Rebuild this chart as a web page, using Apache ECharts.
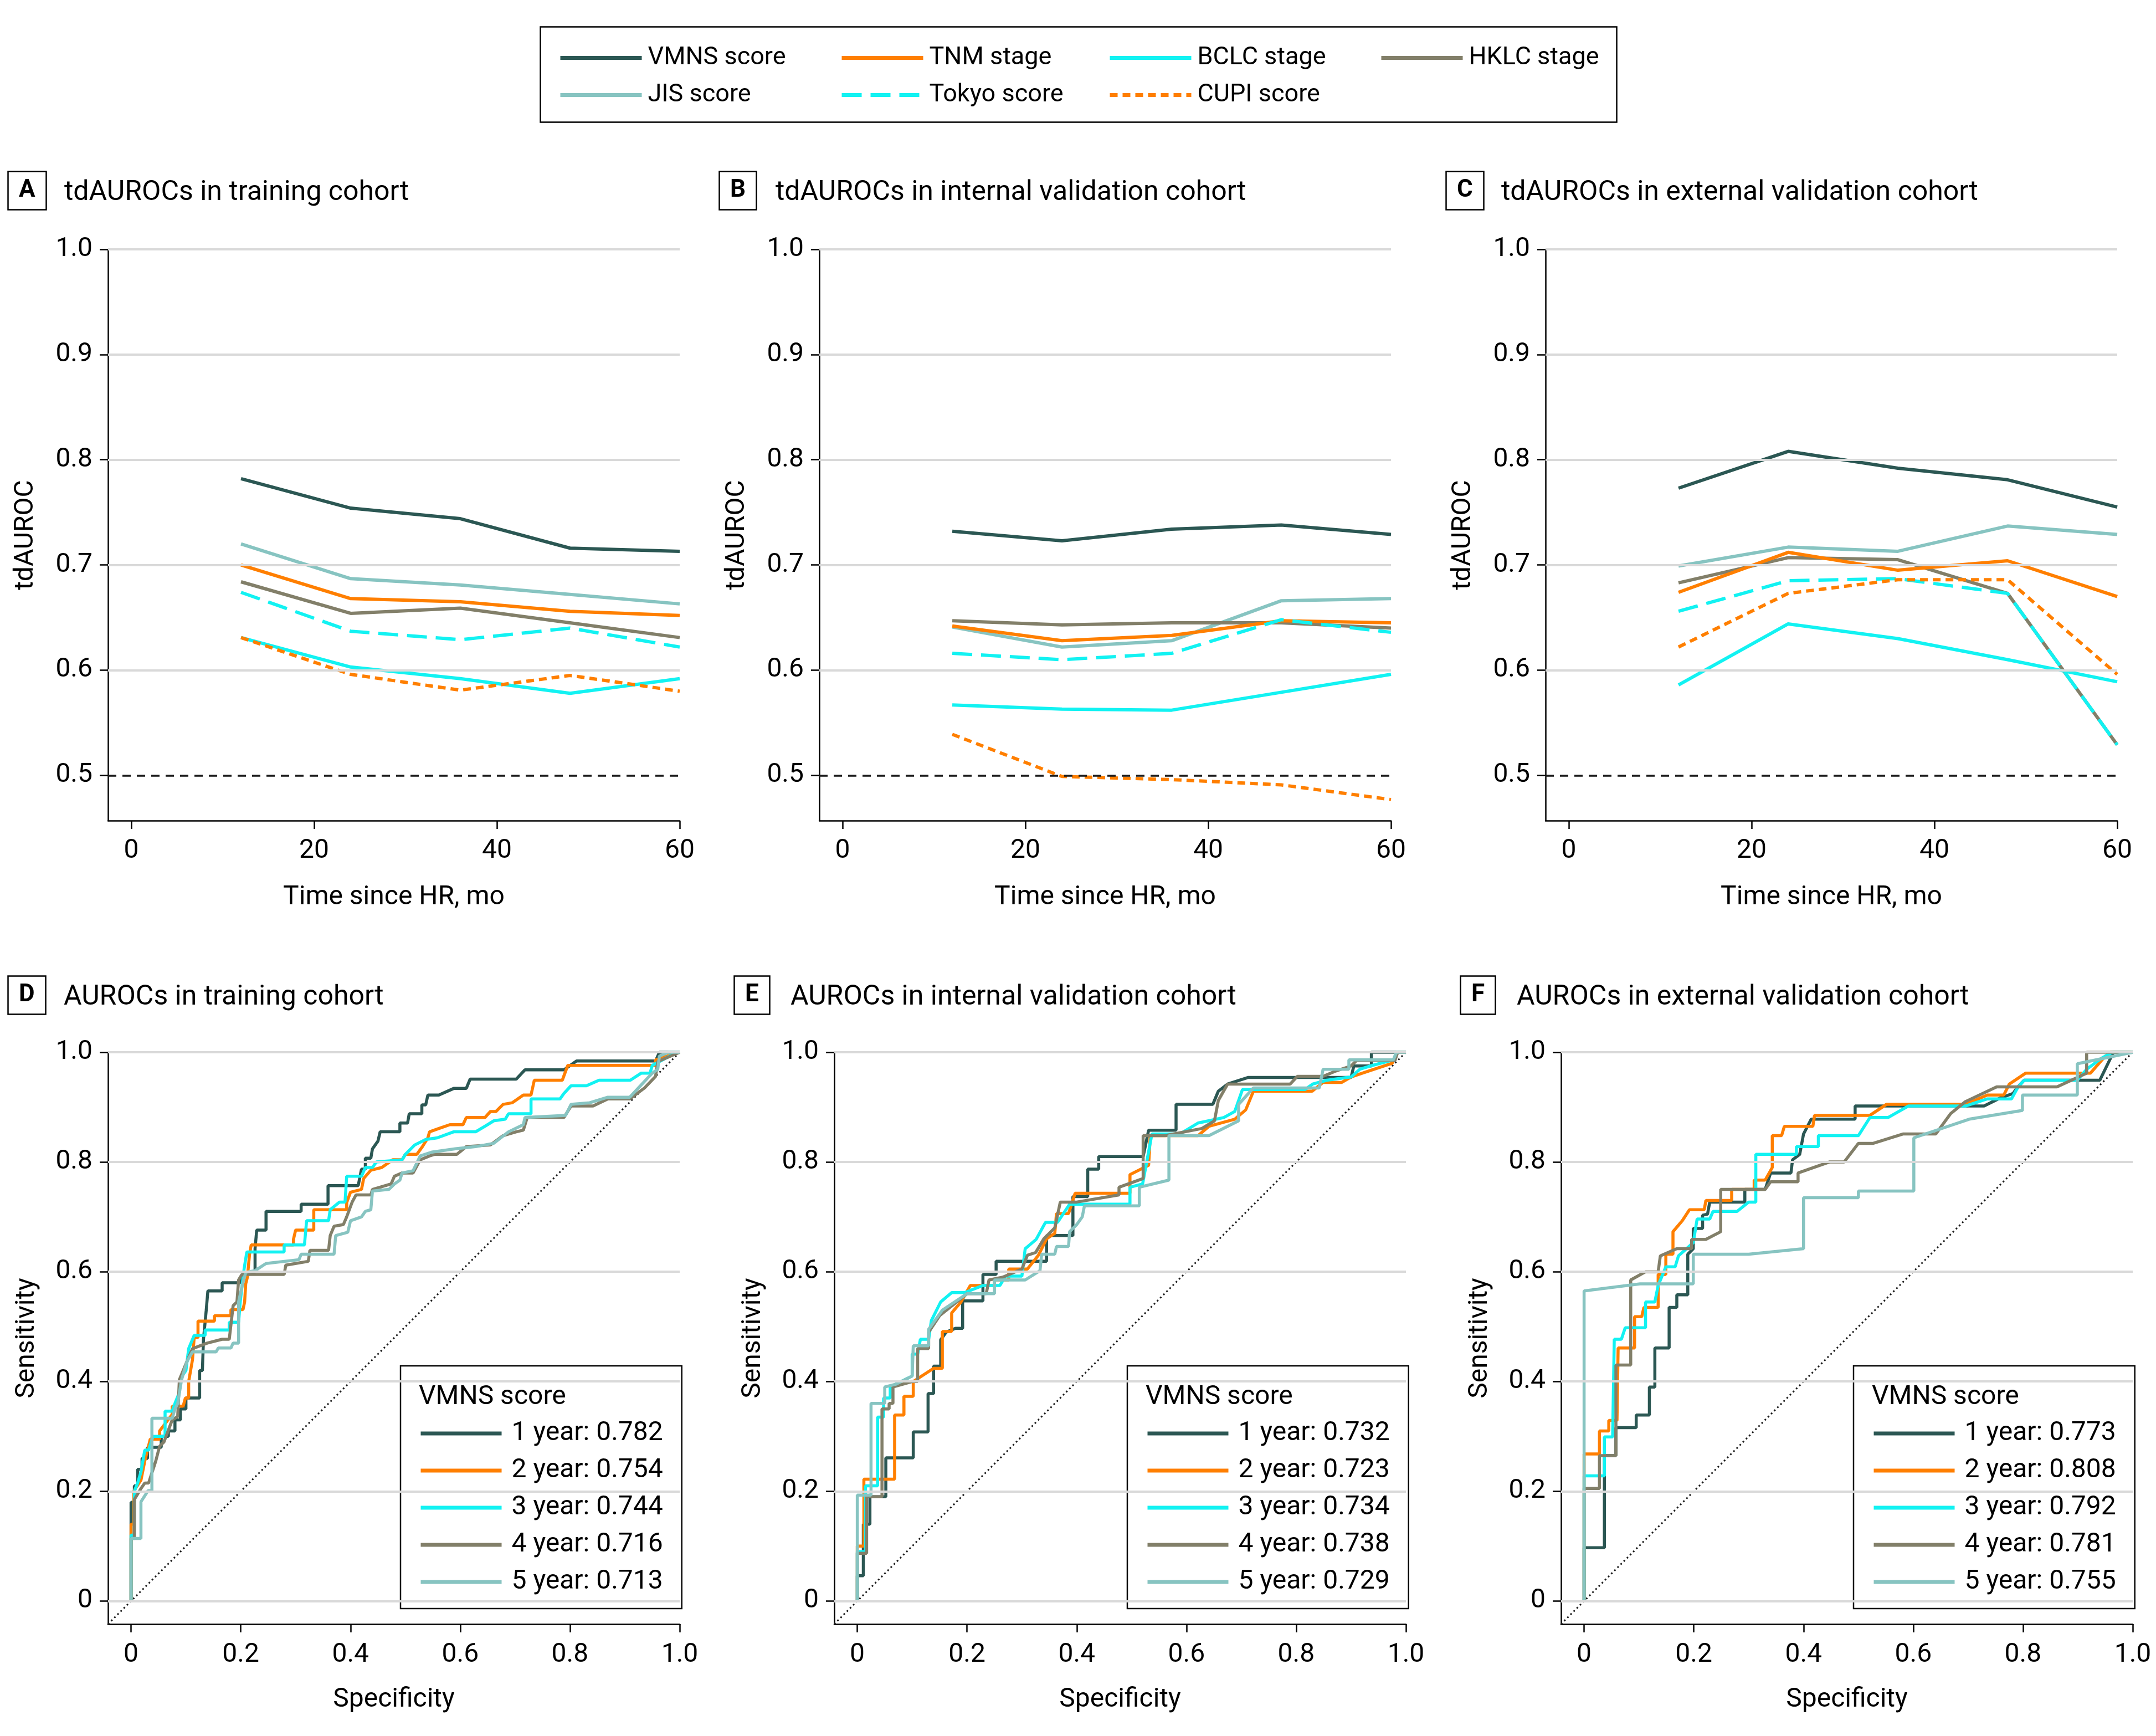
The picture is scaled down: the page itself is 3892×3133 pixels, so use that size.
<!DOCTYPE html>
<html>
<head>
<meta charset="utf-8">
<title>tdAUROCs and AUROCs of the VMNS score</title>
<script src="https://cdn.jsdelivr.net/npm/echarts@6.0.0/dist/echarts.min.js"></script>
<style>
  html, body { margin: 0; padding: 0; background: #ffffff; }
  #chart { width: 3892px; height: 3133px; }
</style>
</head>
<body>
<div id="chart"></div>
<script>
// time points and ticks
const months = [12, 24, 36, 48, 60]
const monthTicks = [0, 20, 40, 60]
const aurocTicks = [0.5, 0.6, 0.7, 0.8, 0.9, 1.0]
const aurocGridLines = [0.6, 0.7, 0.8, 0.9, 1.0]
const chanceLevel = 0.5
const rocTicks = [0, 0.2, 0.4, 0.6, 0.8, 1.0]
const rocMin = -0.042
const rocDiagonal = [[rocMin, rocMin], [1, 1]]

// tdAUROC - training cohort
const trainVmns = [0.782, 0.754, 0.744, 0.716, 0.713]
const trainJis = [0.720, 0.687, 0.681, 0.672, 0.663]
const trainTnm = [0.700, 0.668, 0.665, 0.656, 0.652]
const trainHklc = [0.684, 0.654, 0.659, 0.645, 0.631]
const trainTokyo = [0.674, 0.637, 0.629, 0.640, 0.622]
const trainBclc = [0.631, 0.603, 0.592, 0.578, 0.592]
const trainCupi = [0.631, 0.596, 0.581, 0.595, 0.580]

// tdAUROC - internal validation cohort
const intVmns = [0.732, 0.723, 0.734, 0.738, 0.729]
const intJis = [0.641, 0.622, 0.628, 0.666, 0.668]
const intTnm = [0.642, 0.628, 0.633, 0.647, 0.645]
const intHklc = [0.647, 0.643, 0.645, 0.645, 0.640]
const intTokyo = [0.616, 0.610, 0.616, 0.648, 0.636]
const intBclc = [0.567, 0.563, 0.562, 0.579, 0.596]
const intCupi = [0.539, 0.499, 0.496, 0.491, 0.477]

// tdAUROC - external validation cohort
const extVmns = [0.773, 0.808, 0.792, 0.781, 0.755]
const extJis = [0.699, 0.717, 0.713, 0.737, 0.729]
const extTnm = [0.674, 0.712, 0.695, 0.704, 0.670]
const extHklc = [0.683, 0.707, 0.705, 0.673, 0.529]
const extTokyo = [0.656, 0.685, 0.687, 0.673, 0.529]
const extBclc = [0.586, 0.644, 0.630, 0.610, 0.589]
const extCupi = [0.622, 0.673, 0.686, 0.686, 0.596]

// VMNS score AUROC per year
const aucTrain = [0.782, 0.754, 0.744, 0.716, 0.713]
const aucInt = [0.732, 0.723, 0.734, 0.738, 0.729]
const aucExt = [0.773, 0.808, 0.792, 0.781, 0.755]

// ROC curves, [specificity axis value, sensitivity]
const rocTrain1 = [[0,0],[0,0.18],[0.006,0.18],[0.006,0.21],[0.012,0.21],[0.012,0.24],[0.02,0.24],[0.02,0.26],[0.03,0.26],[0.03,0.28],[0.055,0.28],[0.055,0.3],[0.068,0.3],[0.068,0.31],[0.08,0.31],[0.08,0.33],[0.09,0.33],[0.09,0.35],[0.1,0.35],[0.1,0.37],[0.125,0.37],[0.125,0.42],[0.13,0.42],[0.132,0.477],[0.137,0.53],[0.14,0.565],[0.166,0.565],[0.166,0.58],[0.199,0.58],[0.2,0.59],[0.226,0.6],[0.226,0.642],[0.229,0.676],[0.246,0.676],[0.246,0.71],[0.31,0.71],[0.31,0.723],[0.359,0.723],[0.359,0.757],[0.414,0.757],[0.42,0.787],[0.427,0.787],[0.427,0.807],[0.437,0.807],[0.44,0.824],[0.45,0.838],[0.454,0.855],[0.49,0.855],[0.49,0.871],[0.504,0.871],[0.507,0.888],[0.53,0.888],[0.53,0.904],[0.537,0.904],[0.541,0.922],[0.561,0.922],[0.588,0.934],[0.611,0.934],[0.618,0.951],[0.702,0.951],[0.718,0.968],[0.789,0.968],[0.812,0.984],[0.956,0.984],[0.963,1],[1,1]]
const rocTrain2 = [[0,0],[0,0.14],[0.005,0.14],[0.005,0.2],[0.011,0.21],[0.018,0.22],[0.025,0.255],[0.035,0.295],[0.052,0.295],[0.052,0.31],[0.075,0.34],[0.075,0.355],[0.095,0.355],[0.099,0.37],[0.105,0.37],[0.105,0.4],[0.112,0.44],[0.115,0.48],[0.122,0.48],[0.122,0.51],[0.152,0.51],[0.152,0.52],[0.182,0.52],[0.182,0.531],[0.204,0.531],[0.207,0.545],[0.209,0.578],[0.212,0.59],[0.216,0.632],[0.219,0.649],[0.296,0.649],[0.296,0.659],[0.3,0.676],[0.333,0.676],[0.333,0.713],[0.393,0.713],[0.393,0.726],[0.4,0.745],[0.42,0.75],[0.424,0.77],[0.437,0.785],[0.457,0.79],[0.477,0.804],[0.494,0.804],[0.5,0.814],[0.521,0.814],[0.531,0.828],[0.541,0.844],[0.544,0.855],[0.561,0.861],[0.581,0.868],[0.605,0.868],[0.611,0.881],[0.645,0.881],[0.655,0.892],[0.665,0.892],[0.678,0.905],[0.695,0.908],[0.715,0.922],[0.729,0.922],[0.735,0.949],[0.786,0.949],[0.796,0.976],[0.956,0.976],[0.956,0.986],[0.987,0.996],[1,1]]
const rocTrain3 = [[0,0],[0,0.12],[0.006,0.12],[0.006,0.2],[0.012,0.215],[0.018,0.235],[0.025,0.275],[0.032,0.275],[0.04,0.3],[0.062,0.3],[0.062,0.346],[0.075,0.346],[0.08,0.36],[0.088,0.38],[0.088,0.403],[0.1,0.42],[0.105,0.46],[0.115,0.484],[0.135,0.484],[0.135,0.494],[0.179,0.494],[0.179,0.508],[0.196,0.508],[0.199,0.545],[0.202,0.572],[0.206,0.605],[0.211,0.636],[0.279,0.636],[0.279,0.649],[0.316,0.649],[0.32,0.693],[0.36,0.693],[0.363,0.713],[0.38,0.727],[0.39,0.727],[0.393,0.774],[0.42,0.774],[0.427,0.79],[0.44,0.79],[0.447,0.8],[0.494,0.804],[0.5,0.814],[0.517,0.831],[0.537,0.841],[0.558,0.844],[0.588,0.855],[0.628,0.855],[0.645,0.865],[0.661,0.875],[0.682,0.878],[0.688,0.888],[0.729,0.888],[0.729,0.915],[0.782,0.915],[0.789,0.925],[0.802,0.939],[0.83,0.939],[0.853,0.949],[0.91,0.949],[0.93,0.962],[0.946,0.962],[0.95,0.976],[0.987,0.996],[1,1]]
const rocTrain4 = [[0,0],[0,0.114],[0.006,0.114],[0.006,0.185],[0.012,0.195],[0.018,0.205],[0.025,0.215],[0.032,0.215],[0.045,0.255],[0.052,0.282],[0.06,0.29],[0.075,0.33],[0.085,0.336],[0.088,0.403],[0.102,0.437],[0.112,0.46],[0.139,0.47],[0.166,0.477],[0.179,0.477],[0.186,0.538],[0.193,0.545],[0.196,0.585],[0.202,0.595],[0.279,0.595],[0.282,0.612],[0.323,0.619],[0.326,0.639],[0.36,0.639],[0.363,0.666],[0.37,0.683],[0.387,0.686],[0.393,0.7],[0.403,0.727],[0.41,0.74],[0.437,0.74],[0.44,0.75],[0.474,0.76],[0.48,0.774],[0.494,0.78],[0.514,0.78],[0.527,0.804],[0.544,0.811],[0.554,0.814],[0.594,0.814],[0.611,0.828],[0.655,0.831],[0.678,0.848],[0.702,0.855],[0.715,0.858],[0.722,0.881],[0.789,0.881],[0.802,0.902],[0.842,0.902],[0.869,0.915],[0.909,0.915],[0.936,0.935],[0.956,0.956],[0.96,0.983],[1,1]]
const rocTrain5 = [[0,0],[0,0.114],[0.018,0.114],[0.018,0.181],[0.031,0.201],[0.038,0.201],[0.038,0.333],[0.075,0.333],[0.08,0.35],[0.085,0.36],[0.092,0.403],[0.102,0.437],[0.112,0.454],[0.155,0.454],[0.159,0.461],[0.182,0.461],[0.186,0.47],[0.196,0.47],[0.196,0.545],[0.202,0.572],[0.209,0.599],[0.226,0.602],[0.246,0.615],[0.306,0.622],[0.31,0.632],[0.37,0.632],[0.373,0.666],[0.395,0.672],[0.4,0.693],[0.42,0.7],[0.427,0.71],[0.437,0.713],[0.44,0.747],[0.47,0.75],[0.48,0.76],[0.49,0.767],[0.494,0.78],[0.514,0.784],[0.527,0.811],[0.548,0.818],[0.591,0.824],[0.628,0.828],[0.661,0.834],[0.688,0.855],[0.715,0.868],[0.718,0.881],[0.792,0.885],[0.802,0.905],[0.836,0.908],[0.869,0.918],[0.909,0.918],[0.95,0.962],[0.96,0.969],[0.963,0.993],[0.98,1],[1,1]]

const rocInt1 = [[0,0],[0,0.046],[0.011,0.046],[0.011,0.14],[0.023,0.14],[0.023,0.19],[0.052,0.19],[0.052,0.261],[0.102,0.261],[0.102,0.308],[0.129,0.308],[0.129,0.378],[0.139,0.378],[0.139,0.428],[0.152,0.428],[0.152,0.476],[0.162,0.49],[0.179,0.497],[0.192,0.497],[0.192,0.547],[0.229,0.547],[0.229,0.595],[0.253,0.595],[0.253,0.619],[0.345,0.619],[0.345,0.666],[0.393,0.666],[0.393,0.737],[0.42,0.737],[0.42,0.787],[0.44,0.787],[0.44,0.81],[0.521,0.81],[0.531,0.858],[0.581,0.858],[0.581,0.905],[0.648,0.905],[0.658,0.929],[0.675,0.942],[0.712,0.954],[0.9,0.954],[0.905,0.975],[0.937,0.975],[0.937,1],[1,1]]
const rocInt2 = [[0,0],[0,0.1],[0.012,0.1],[0.012,0.222],[0.068,0.222],[0.068,0.339],[0.085,0.339],[0.085,0.373],[0.102,0.373],[0.102,0.4],[0.139,0.424],[0.155,0.424],[0.155,0.491],[0.172,0.491],[0.172,0.525],[0.189,0.545],[0.206,0.575],[0.25,0.575],[0.25,0.585],[0.276,0.585],[0.276,0.605],[0.31,0.605],[0.33,0.63],[0.345,0.66],[0.36,0.67],[0.363,0.706],[0.385,0.706],[0.397,0.743],[0.497,0.743],[0.497,0.777],[0.531,0.794],[0.534,0.848],[0.621,0.848],[0.641,0.865],[0.688,0.878],[0.708,0.895],[0.722,0.929],[0.829,0.929],[0.849,0.945],[0.883,0.945],[0.9,0.955],[0.933,0.966],[0.975,0.98],[0.983,1],[1,1]]
const rocInt3 = [[0,0],[0,0.09],[0.015,0.09],[0.015,0.21],[0.037,0.21],[0.037,0.335],[0.048,0.335],[0.048,0.37],[0.06,0.37],[0.06,0.39],[0.08,0.4],[0.1,0.41],[0.1,0.45],[0.11,0.45],[0.115,0.477],[0.13,0.477],[0.135,0.511],[0.152,0.545],[0.172,0.562],[0.196,0.562],[0.229,0.575],[0.26,0.575],[0.27,0.592],[0.3,0.592],[0.306,0.642],[0.326,0.659],[0.343,0.69],[0.365,0.69],[0.387,0.723],[0.497,0.723],[0.497,0.754],[0.52,0.76],[0.537,0.851],[0.588,0.851],[0.621,0.871],[0.668,0.881],[0.688,0.892],[0.702,0.932],[0.816,0.932],[0.83,0.942],[0.856,0.949],[0.9,0.955],[0.916,0.969],[0.935,0.975],[0.977,0.986],[0.983,1],[1,1]]
const rocInt4 = [[0,0],[0,0.087],[0.017,0.087],[0.017,0.19],[0.045,0.19],[0.045,0.35],[0.058,0.35],[0.058,0.36],[0.065,0.36],[0.065,0.39],[0.1,0.4],[0.11,0.4],[0.11,0.46],[0.13,0.46],[0.13,0.49],[0.15,0.52],[0.2,0.56],[0.235,0.56],[0.24,0.585],[0.265,0.59],[0.3,0.605],[0.31,0.63],[0.325,0.635],[0.34,0.66],[0.36,0.68],[0.37,0.727],[0.4,0.727],[0.477,0.74],[0.477,0.754],[0.521,0.77],[0.521,0.848],[0.561,0.848],[0.628,0.861],[0.651,0.875],[0.658,0.912],[0.675,0.942],[0.789,0.942],[0.802,0.956],[0.849,0.956],[0.87,0.965],[0.9,0.975],[0.91,0.985],[0.98,0.985],[0.985,1],[1,1]]
const rocInt5 = [[0,0],[0,0.193],[0.025,0.193],[0.025,0.36],[0.05,0.36],[0.05,0.39],[0.07,0.395],[0.1,0.41],[0.102,0.465],[0.13,0.465],[0.13,0.495],[0.155,0.53],[0.2,0.56],[0.25,0.56],[0.25,0.585],[0.306,0.585],[0.333,0.602],[0.336,0.632],[0.36,0.632],[0.363,0.646],[0.385,0.646],[0.387,0.673],[0.4,0.686],[0.41,0.7],[0.414,0.72],[0.514,0.72],[0.514,0.754],[0.568,0.767],[0.568,0.848],[0.641,0.848],[0.695,0.875],[0.695,0.905],[0.722,0.935],[0.842,0.935],[0.849,0.969],[0.896,0.969],[0.896,0.986],[0.977,0.986],[0.983,1],[1,1]]

const rocExt1 = [[0,0],[0,0.097],[0.037,0.097],[0.037,0.265],[0.058,0.265],[0.058,0.316],[0.095,0.316],[0.095,0.339],[0.119,0.339],[0.119,0.39],[0.129,0.39],[0.129,0.461],[0.155,0.461],[0.155,0.535],[0.169,0.535],[0.169,0.558],[0.189,0.558],[0.189,0.632],[0.199,0.642],[0.199,0.679],[0.216,0.679],[0.216,0.703],[0.225,0.705],[0.229,0.727],[0.293,0.727],[0.293,0.75],[0.33,0.75],[0.34,0.78],[0.377,0.78],[0.38,0.804],[0.393,0.814],[0.4,0.851],[0.414,0.878],[0.494,0.878],[0.494,0.902],[0.729,0.902],[0.755,0.915],[0.782,0.925],[0.789,0.935],[0.802,0.949],[0.94,0.949],[0.96,0.99],[0.965,1],[1,1]]
const rocExt2 = [[0,0],[0,0.268],[0.028,0.268],[0.028,0.31],[0.045,0.31],[0.045,0.329],[0.06,0.329],[0.062,0.461],[0.092,0.461],[0.092,0.518],[0.105,0.518],[0.109,0.535],[0.135,0.535],[0.135,0.595],[0.149,0.595],[0.149,0.632],[0.162,0.632],[0.162,0.673],[0.179,0.693],[0.192,0.713],[0.219,0.713],[0.222,0.73],[0.269,0.73],[0.269,0.75],[0.31,0.75],[0.31,0.767],[0.33,0.767],[0.343,0.79],[0.343,0.848],[0.36,0.848],[0.365,0.865],[0.417,0.865],[0.42,0.885],[0.521,0.885],[0.551,0.905],[0.695,0.905],[0.735,0.922],[0.765,0.922],[0.775,0.942],[0.805,0.962],[0.923,0.962],[0.95,0.993],[0.96,1],[1,1]]
const rocExt3 = [[0,0],[0,0.228],[0.037,0.228],[0.037,0.299],[0.052,0.299],[0.055,0.477],[0.068,0.477],[0.075,0.498],[0.112,0.498],[0.112,0.545],[0.129,0.545],[0.135,0.575],[0.149,0.609],[0.166,0.609],[0.172,0.629],[0.199,0.653],[0.206,0.696],[0.229,0.696],[0.235,0.71],[0.279,0.71],[0.3,0.727],[0.313,0.727],[0.313,0.814],[0.387,0.814],[0.387,0.828],[0.427,0.828],[0.427,0.848],[0.5,0.848],[0.521,0.881],[0.554,0.881],[0.591,0.902],[0.695,0.902],[0.735,0.915],[0.779,0.915],[0.79,0.935],[0.802,0.949],[0.899,0.949],[0.916,0.969],[0.943,0.989],[0.963,1],[1,1]]
const rocExt4 = [[0,0],[0,0.205],[0.028,0.205],[0.028,0.265],[0.058,0.265],[0.058,0.43],[0.085,0.43],[0.085,0.585],[0.112,0.6],[0.135,0.6],[0.139,0.629],[0.169,0.642],[0.196,0.642],[0.196,0.659],[0.222,0.659],[0.249,0.673],[0.249,0.75],[0.33,0.75],[0.34,0.764],[0.39,0.764],[0.39,0.78],[0.447,0.8],[0.474,0.8],[0.5,0.834],[0.527,0.834],[0.581,0.851],[0.641,0.851],[0.668,0.888],[0.695,0.91],[0.752,0.937],[0.862,0.937],[0.916,0.962],[0.916,1],[1,1]]
const rocExt5 = [[0,0],[0,0.565],[0.102,0.578],[0.199,0.578],[0.199,0.632],[0.3,0.632],[0.4,0.642],[0.4,0.735],[0.5,0.735],[0.5,0.747],[0.601,0.747],[0.601,0.844],[0.702,0.878],[0.799,0.894],[0.799,0.922],[0.899,0.922],[0.899,0.979],[1,1]]

const FONT = 'Roboto'
const COLORS = {
  vmns: '#2b5753',
  jis: '#87c4c1',
  tnm: '#ff7f00',
  hklc: '#827f69',
  cyan: '#12f2f2',
}

// drawing order (last on top)
const models = [
  { key: 'vmns', name: 'VMNS score', color: COLORS.vmns, type: 'solid' },
  { key: 'jis', name: 'JIS score', color: COLORS.jis, type: 'solid' },
  { key: 'hklc', name: 'HKLC stage', color: COLORS.hklc, type: 'solid' },
  { key: 'tnm', name: 'TNM stage', color: COLORS.tnm, type: 'solid' },
  { key: 'bclc', name: 'BCLC stage', color: COLORS.cyan, type: 'solid' },
  { key: 'tokyo', name: 'Tokyo score', color: COLORS.cyan, type: [36, 16] },
  { key: 'cupi', name: 'CUPI score', color: COLORS.tnm, type: [14, 9] },
]
const rocColors = [COLORS.vmns, COLORS.tnm, COLORS.cyan, COLORS.hklc, COLORS.jis]

const tdPanels = [
  { vmns: trainVmns, jis: trainJis, hklc: trainHklc, tnm: trainTnm, bclc: trainBclc, tokyo: trainTokyo, cupi: trainCupi },
  { vmns: intVmns, jis: intJis, hklc: intHklc, tnm: intTnm, bclc: intBclc, tokyo: intTokyo, cupi: intCupi },
  { vmns: extVmns, jis: extJis, hklc: extHklc, tnm: extTnm, bclc: extBclc, tokyo: extTokyo, cupi: extCupi },
]
const rocPanels = [
  { auc: aucTrain, curves: [rocTrain1, rocTrain2, rocTrain3, rocTrain4, rocTrain5] },
  { auc: aucInt, curves: [rocInt1, rocInt2, rocInt3, rocInt4, rocInt5] },
  { auc: aucExt, curves: [rocExt1, rocExt2, rocExt3, rocExt4, rocExt5] },
]

const panelLetters = ['A', 'B', 'C', 'D', 'E', 'F']
const panelTitles = [
  'tdAUROCs in training cohort',
  'tdAUROCs in internal validation cohort',
  'tdAUROCs in external validation cohort',
  'AUROCs in training cohort',
  'AUROCs in internal validation cohort',
  'AUROCs in external validation cohort',
]

// layout
const grids = [
  { left: 195, top: 450, width: 1032, height: 1031 },
  { left: 1479, top: 450, width: 1032, height: 1031 },
  { left: 2790, top: 450, width: 1032, height: 1031 },
  { left: 195, top: 1899, width: 1032, height: 1032 },
  { left: 1506, top: 1899, width: 1032, height: 1032 },
  { left: 2818, top: 1899, width: 1032, height: 1032 },
]
const letterLefts = [14, 1298, 2610, 14, 1325, 2636]
const titleLefts = [116, 1400, 2710, 115, 1427, 2738]
const titleCenters = [345, 345, 345, 1797, 1797, 1797]
const rocLegendLefts = [723, 2035, 3346]
const rocLegendTop = 2465

const axisLineStyle = { color: '#000000', width: 2.5 }
const labelStyle = { fontSize: 48, color: '#000000', fontFamily: FONT }
const nameStyle = { fontSize: 48, color: '#000000', fontFamily: FONT }

const makeAxis = (gridIndex, opts) => ({
  gridIndex,
  type: 'value',
  min: opts.min,
  max: opts.max,
  name: opts.name,
  nameLocation: 'middle',
  nameGap: opts.nameGap,
  nameTextStyle: nameStyle,
  axisLine: { show: true, onZero: false, lineStyle: axisLineStyle },
  axisTick: { show: true, length: 15, lineStyle: axisLineStyle, customValues: opts.ticks },
  axisLabel: { ...labelStyle, margin: opts.margin, customValues: opts.ticks, formatter: opts.formatter },
  splitLine: { show: false },
})

const xAxes = []
const yAxes = []
for (let i = 0; i < 3; i++) {
  xAxes.push(makeAxis(i, {
    min: -2.55, max: 60, ticks: monthTicks, name: 'Time since HR, mo', nameGap: 115, margin: 31,
    formatter: (v) => String(Math.round(v)),
  }))
  yAxes.push(makeAxis(i, {
    min: 0.457, max: 1.0, ticks: aurocTicks, name: 'tdAUROC', nameGap: 124, margin: 28,
    formatter: (v) => v.toFixed(1),
  }))
}
for (let i = 3; i < 6; i++) {
  xAxes.push(makeAxis(i, {
    min: rocMin, max: 1, ticks: rocTicks, name: 'Specificity', nameGap: 113, margin: 32,
    formatter: (v) => (v === 0 ? '0' : v.toFixed(1)),
  }))
  yAxes.push(makeAxis(i, {
    min: rocMin, max: 1, ticks: rocTicks, name: 'Sensitivity', nameGap: 122, margin: 28,
    formatter: (v) => (v === 0 ? '0' : v.toFixed(1)),
  }))
}

const series = []

// gridlines and reference lines
const gridLineStyle = { color: '#d9d9d9', width: 4, type: 'solid' }
for (let i = 0; i < 3; i++) {
  series.push({
    type: 'line',
    xAxisIndex: i,
    yAxisIndex: i,
    data: [],
    silent: true,
    z: 1,
    markLine: {
      silent: true,
      symbol: ['none', 'none'],
      label: { show: false },
      lineStyle: gridLineStyle,
      emphasis: { disabled: true },
      data: [
        ...aurocGridLines.map((v) => ({ yAxis: v })),
        { yAxis: chanceLevel, lineStyle: { color: '#1a1a1a', width: 3.5, type: [15, 11] } },
      ],
    },
  })
}
for (let i = 3; i < 6; i++) {
  series.push({
    type: 'line',
    xAxisIndex: i,
    yAxisIndex: i,
    data: [],
    silent: true,
    z: 1,
    markLine: {
      silent: true,
      symbol: ['none', 'none'],
      label: { show: false },
      lineStyle: gridLineStyle,
      emphasis: { disabled: true },
      data: rocTicks.map((v) => ({ yAxis: v })),
    },
  })
  series.push({
    type: 'line',
    xAxisIndex: i,
    yAxisIndex: i,
    data: rocDiagonal,
    symbol: 'none',
    silent: true,
    z: 2,
    lineStyle: { color: '#1a1a1a', width: 3, type: [3, 5] },
  })
}

// tdAUROC lines
tdPanels.forEach((panel, p) => {
  models.forEach((m) => {
    series.push({
      type: 'line',
      name: m.name,
      xAxisIndex: p,
      yAxisIndex: p,
      data: months.map((t, k) => [t, panel[m.key][k]]),
      symbol: 'none',
      z: 3,
      itemStyle: { color: m.color },
      lineStyle: { color: m.color, width: 6, type: m.type },
    })
  })
})

// ROC curves
const rocNames = rocPanels.map((panel) => panel.auc.map((a, k) => `${k + 1} year: ${a.toFixed(3)}`))
rocPanels.forEach((panel, p) => {
  panel.curves.forEach((curve, k) => {
    series.push({
      type: 'line',
      name: rocNames[p][k],
      xAxisIndex: p + 3,
      yAxisIndex: p + 3,
      data: curve,
      symbol: 'none',
      z: 3,
      itemStyle: { color: rocColors[k] },
      lineStyle: { color: rocColors[k], width: 5.5 },
    })
  })
})

// legends
const topLegendColumns = [
  ['VMNS score', 'JIS score'],
  ['TNM stage', 'Tokyo score'],
  ['BCLC stage', 'CUPI score'],
  ['HKLC stage'],
]
const topLegendLefts = [1008, 1516, 2000, 2490]
const legends = topLegendColumns.map((data, c) => ({
  data,
  orient: 'vertical',
  left: topLegendLefts[c],
  top: 82,
  padding: 0,
  itemGap: 22,
  itemWidth: 147,
  itemHeight: 10,
  selectedMode: false,
  itemStyle: { opacity: 0 },
  lineStyle: { width: 7 },
  textStyle: { fontSize: 45, lineHeight: 45, color: '#000000', fontFamily: FONT, padding: [0, 0, 0, 6] },
}))
rocLegendLefts.forEach((left, p) => {
  legends.push({
    data: rocNames[p],
    orient: 'vertical',
    left,
    top: rocLegendTop,
    padding: [98, 34, 24, 33],
    itemGap: 19,
    itemWidth: 146,
    itemHeight: 10,
    selectedMode: false,
    backgroundColor: '#ffffff',
    borderColor: '#000000',
    borderWidth: 2.5,
    itemStyle: { opacity: 0 },
    lineStyle: { width: 7 },
    textStyle: { fontSize: 48, lineHeight: 48, color: '#000000', fontFamily: FONT, padding: [0, 0, 0, 13] },
  })
})

// titles
const titles = []
panelLetters.forEach((letter, i) => {
  titles.push({
    text: letter,
    left: letterLefts[i],
    top: titleCenters[i] - 36,
    padding: [12, 20],
    borderColor: '#000000',
    borderWidth: 2.5,
    textStyle: { fontSize: 44, lineHeight: 46, fontWeight: 'bold', color: '#000000', fontFamily: FONT },
  })
  titles.push({
    text: panelTitles[i],
    left: titleLefts[i],
    top: titleCenters[i] - 22,
    padding: 0,
    textStyle: { fontSize: 50, lineHeight: 50, fontWeight: 'normal', color: '#000000', fontFamily: FONT },
  })
})
rocLegendLefts.forEach((left) => {
  titles.push({
    text: 'VMNS score',
    left: left + 33,
    top: 2498,
    padding: 0,
    z: 10,
    textStyle: { fontSize: 48, lineHeight: 48, fontWeight: 'normal', color: '#000000', fontFamily: FONT },
  })
})

const chart = echarts.init(document.getElementById('chart'), null, { renderer: 'canvas' })
chart.setOption({
  backgroundColor: '#ffffff',
  animation: false,
  textStyle: { fontFamily: FONT },
  title: titles,
  legend: legends,
  grid: grids.map((g) => ({ ...g, containLabel: false, outerBoundsMode: 'none' })),
  xAxis: xAxes,
  yAxis: yAxes,
  series,
  graphic: [
    {
      type: 'rect',
      left: 973,
      top: 46,
      shape: { width: 1943, height: 172 },
      style: { fill: 'none', stroke: '#000000', lineWidth: 2.5 },
      silent: true,
    },
  ],
})
</script>
</body>
</html>
